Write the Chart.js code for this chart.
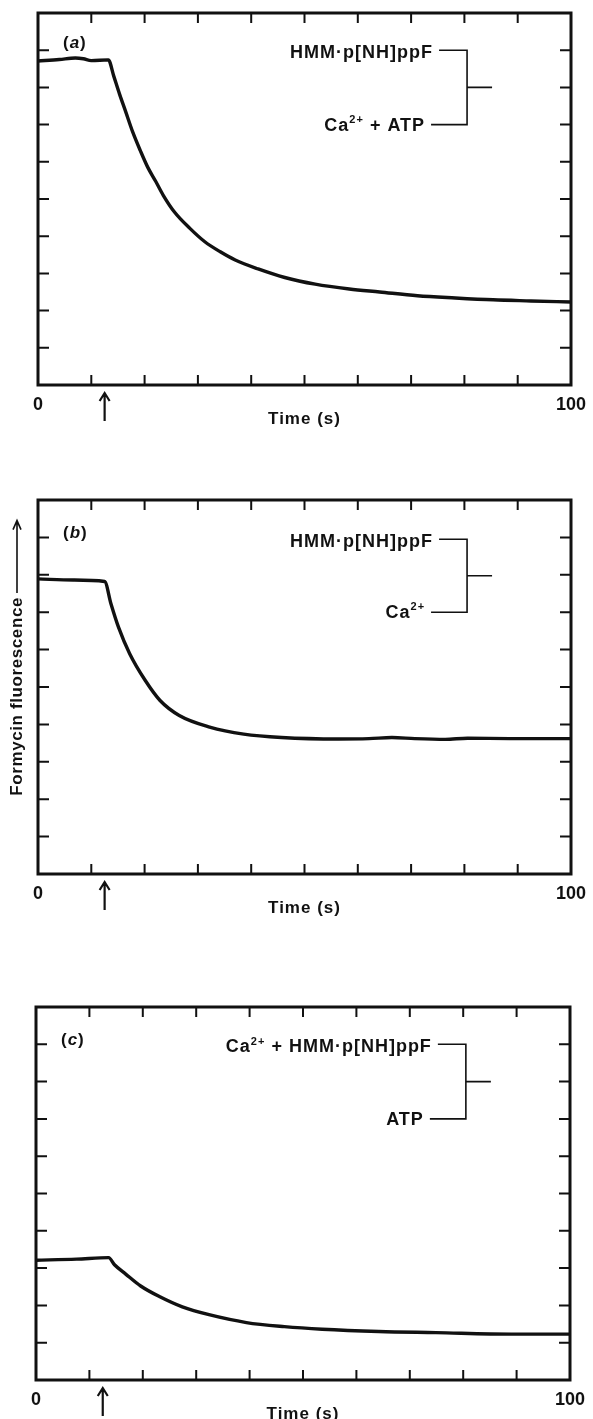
<!DOCTYPE html>
<html>
<head>
<meta charset="utf-8">
<title>Formycin fluorescence</title>
<script src="https://cdn.jsdelivr.net/npm/chart.js"></script>
<style>
body{margin:0;background:#fff;width:593px;height:1419px;overflow:hidden;}
canvas{position:absolute;left:0;}
</style>
</head>
<body>
<canvas id="pa" width="593" height="440" style="top:0px"></canvas>
<canvas id="pb" width="593" height="490" style="top:440px"></canvas>
<canvas id="pc" width="593" height="489" style="top:930px"></canvas>
<script>
// stopped-flow traces, time in s, fluorescence in arbitrary units (0-10)
const timeA = [0, 4, 7, 8.5, 10, 13.2, 14.2, 15.3, 16.4, 17.8, 19.2, 20.6, 22.1, 23.5, 25.6, 28.5, 31.3, 34.2, 37.0, 41.3, 46.3, 52.0, 58.4, 64.1, 71.2, 78.3, 85.4, 92.5, 100];
const fluorA = [8.71, 8.75, 8.79, 8.77, 8.72, 8.74, 8.31, 7.82, 7.37, 6.79, 6.30, 5.85, 5.47, 5.10, 4.65, 4.21, 3.85, 3.58, 3.36, 3.12, 2.89, 2.71, 2.58, 2.50, 2.40, 2.34, 2.29, 2.26, 2.23];

const timeB = [0, 6.6, 12.5, 13.7, 15.1, 17.2, 20.1, 22.9, 26.5, 32.2, 38.6, 45.7, 56.4, 62.1, 66.4, 70.7, 76.4, 80.6, 88.5, 100];
const fluorB = [7.89, 7.86, 7.82, 7.22, 6.60, 5.89, 5.18, 4.64, 4.24, 3.93, 3.74, 3.65, 3.61, 3.62, 3.65, 3.62, 3.60, 3.63, 3.62, 3.62];

const timeC = [0, 7.6, 13.6, 14.7, 16.8, 19.6, 23.2, 27.4, 32.4, 39.4, 46.5, 53.6, 64.2, 74.9, 89.0, 100];
const fluorC = [3.21, 3.24, 3.28, 3.09, 2.84, 2.52, 2.23, 1.96, 1.75, 1.54, 1.43, 1.36, 1.30, 1.27, 1.23, 1.23];

const xTicks = [10, 20, 30, 40, 50, 60, 70, 80, 90];
const yTicks = [1, 2, 3, 4, 5, 6, 7, 8, 9];
const xEndLabels = ['0', '100'];
const xTitle = 'Time (s)';
const yTitle = 'Formycin fluorescence';
const mixTime = 12.5; // arrow marks the mixing point

// bracket annotations: [text, 'sup'] pieces are raised
const notesA = [[['HMM·p[NH]ppF']], [['Ca'], ['2+', 'sup'], [' + ATP']]];
const notesB = [[['HMM·p[NH]ppF']], [['Ca'], ['2+', 'sup']]];
const notesC = [[['Ca'], ['2+', 'sup'], [' + HMM·p[NH]ppF']], [['ATP']]];

const ink = '#111';
const face = "'Liberation Sans', Arial, sans-serif";

function fontFor(size, sup) {
  return 'bold ' + (sup ? Math.round(size * 0.62) : size) + 'px ' + face;
}

function richWidth(ctx, parts, size) {
  let w = 0;
  parts.forEach(([t, k]) => {
    ctx.font = fontFor(size, k === 'sup');
    w += ctx.measureText(t).width;
  });
  return w;
}

function drawRich(ctx, parts, right, y, size) {
  let x = right - richWidth(ctx, parts, size);
  ctx.textAlign = 'left';
  ctx.textBaseline = 'middle';
  parts.forEach(([t, k]) => {
    const sup = k === 'sup';
    ctx.font = fontFor(size, sup);
    ctx.fillText(t, x, sup ? y - size * 0.32 : y);
    x += ctx.measureText(t).width;
  });
}

function panelPlugin(cfg) {
  return {
    id: 'panel' + cfg.letter,
    afterDraw(chart) {
      const {ctx, chartArea: a, scales: {x, y}} = chart;
      ctx.save();
      ctx.strokeStyle = ink;
      ctx.fillStyle = ink;
      ctx.lineCap = 'butt';

      // frame
      ctx.lineWidth = 3;
      ctx.strokeRect(a.left, a.top, a.right - a.left, a.bottom - a.top);

      // inward ticks on all four sides
      ctx.lineWidth = 2;
      ctx.beginPath();
      xTicks.forEach(v => {
        const px = x.getPixelForValue(v);
        ctx.moveTo(px, a.top); ctx.lineTo(px, a.top + 10);
        ctx.moveTo(px, a.bottom); ctx.lineTo(px, a.bottom - 10);
      });
      yTicks.forEach(v => {
        const py = y.getPixelForValue(v);
        ctx.moveTo(a.left, py); ctx.lineTo(a.left + 11, py);
        ctx.moveTo(a.right, py); ctx.lineTo(a.right - 11, py);
      });
      ctx.stroke();

      // x end labels and title
      ctx.letterSpacing = '0px';
      ctx.font = 'bold 18px ' + face;
      ctx.textAlign = 'center';
      ctx.textBaseline = 'middle';
      ctx.fillText(xEndLabels[0], x.getPixelForValue(0), a.bottom + 20);
      ctx.fillText(xEndLabels[1], x.getPixelForValue(100), a.bottom + 20);
      ctx.letterSpacing = '1px';
      ctx.font = 'bold 17px ' + face;
      ctx.fillText(xTitle, x.getPixelForValue(50), a.bottom + 34);

      // mixing arrow below the axis
      const ax = x.getPixelForValue(mixTime);
      ctx.lineWidth = 2.2;
      ctx.beginPath();
      ctx.moveTo(ax, a.bottom + 9); ctx.lineTo(ax, a.bottom + 36);
      ctx.moveTo(ax - 5, a.bottom + 16); ctx.lineTo(ax, a.bottom + 8); ctx.lineTo(ax + 5, a.bottom + 16);
      ctx.stroke();

      // panel letter, italic inside upright parentheses
      ctx.letterSpacing = '0px';
      ctx.textAlign = 'left';
      let lx = a.left + 25;
      const ly = a.top + cfg.letterDy;
      ctx.font = 'bold 17px ' + face;
      ctx.fillText('(', lx, ly); lx += ctx.measureText('(').width + 1;
      ctx.font = 'italic bold 17px ' + face;
      ctx.fillText(cfg.letter, lx, ly); lx += ctx.measureText(cfg.letter).width + 1;
      ctx.font = 'bold 17px ' + face;
      ctx.fillText(')', lx, ly);

      // bracket with the two mixed solutions
      const bx = a.left + (a.right - a.left) * 0.805;
      const yTop = y.getPixelForValue(cfg.bracket[0]);
      const yBot = y.getPixelForValue(cfg.bracket[1]);
      ctx.lineWidth = 1.6;
      ctx.beginPath();
      ctx.moveTo(bx - 28, yTop); ctx.lineTo(bx, yTop); ctx.lineTo(bx, yBot); ctx.lineTo(bx - 36, yBot);
      ctx.moveTo(bx, (yTop + yBot) / 2); ctx.lineTo(bx + 25, (yTop + yBot) / 2);
      ctx.stroke();
      ctx.letterSpacing = '1px';
      drawRich(ctx, cfg.notes[0], bx - 34, yTop + 3, 18);
      drawRich(ctx, cfg.notes[1], bx - 42, yBot + 1, 18);

      // vertical axis title with arrow
      if (cfg.yTitle) {
        ctx.save();
        const cy = y.getPixelForValue(4.75);
        const tip = cy - y.getPixelForValue(9.45);
        ctx.translate(17, cy);
        ctx.rotate(-Math.PI / 2);
        ctx.letterSpacing = '0.6px';
        ctx.font = 'bold 17px ' + face;
        ctx.textAlign = 'left';
        ctx.textBaseline = 'middle';
        const tw = ctx.measureText(yTitle).width;
        ctx.fillText(yTitle, -tw / 2, 0);
        ctx.lineWidth = 1.6;
        ctx.beginPath();
        ctx.moveTo(tw / 2 + 4, 0); ctx.lineTo(tip - 1, 0);
        ctx.moveTo(tip - 9, -4); ctx.lineTo(tip, 0); ctx.lineTo(tip - 9, 4);
        ctx.stroke();
        ctx.restore();
      }
      ctx.restore();
    }
  };
}

function makePanel(id, times, values, cfg, pad) {
  new Chart(document.getElementById(id), {
    type: 'line',
    data: {
      datasets: [{
        data: times.map((t, i) => ({x: t, y: values[i]})),
        borderColor: ink,
        borderWidth: 3.4,
        pointRadius: 0,
        cubicInterpolationMode: 'monotone',
        fill: false
      }]
    },
    options: {
      responsive: false,
      animation: false,
      events: [],
      layout: {padding: pad},
      plugins: {legend: {display: false}, tooltip: {enabled: false}},
      scales: {
        x: {type: 'linear', min: 0, max: 100, display: false},
        y: {type: 'linear', min: 0, max: 10, display: false}
      }
    },
    plugins: [panelPlugin(cfg)]
  });
}

makePanel('pa', timeA, fluorA, {letter: 'a', letterDy: 30, bracket: [9, 7], notes: notesA}, {left: 38, right: 22, top: 13, bottom: 55});
makePanel('pb', timeB, fluorB, {letter: 'b', letterDy: 33, bracket: [8.95, 7], notes: notesB, yTitle: true}, {left: 38, right: 22, top: 60, bottom: 56});
makePanel('pc', timeC, fluorC, {letter: 'c', letterDy: 33, bracket: [9, 7], notes: notesC}, {left: 36, right: 23, top: 77, bottom: 39});
</script>
</body>
</html>
